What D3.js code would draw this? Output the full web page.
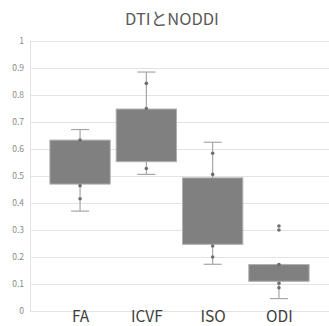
<!DOCTYPE html>
<html><head><meta charset="utf-8">
<script src="https://cdn.jsdelivr.net/npm/d3@7"></script>
<style>html,body{margin:0;padding:0;background:#fff;}</style>
</head><body>
<svg id="c" width="329" height="326"></svg>
<script>
const categories = ["FA", "ICVF", "ISO", "ODI"];
const q1 = [0.470, 0.553, 0.247, 0.110];
const q3 = [0.633, 0.748, 0.493, 0.172];
const whiskerLow = [0.370, 0.506, 0.173, 0.046];
const whiskerHigh = [0.672, 0.885, 0.625, 0.172];
const points = [
  [0.633, 0.464, 0.416],
  [0.843, 0.750, 0.528],
  [0.584, 0.506, 0.241, 0.200],
  [0.315, 0.300, 0.172, 0.103, 0.086]
];
const yTicks = [0, 0.1, 0.2, 0.3, 0.4, 0.5, 0.6, 0.7, 0.8, 0.9, 1];
const title = "DTIとNODDI";

const svg = d3.select("#c");
const font = "'Noto Sans CJK JP','Noto Sans',sans-serif";
const y = d3.scaleLinear().domain([0, 1]).range([311, 41]);
const x = d3.scalePoint().domain(categories).range([30, 329]).padding(0.755);
const step = x.step();
const boxW = step * 0.91;

svg.append("text").attr("x", 172).attr("y", 25).attr("text-anchor", "middle")
  .attr("font-family", font).attr("font-size", 16.5).attr("fill", "#595959").text(title);

// gridlines
svg.append("g").selectAll("line").data(yTicks).join("line")
  .attr("x1", 30).attr("x2", 329).attr("y1", d => y(d)).attr("y2", d => y(d))
  .attr("stroke", "#e3e3e3").attr("stroke-width", 1).attr("shape-rendering", "crispEdges");
svg.append("line").attr("x1", 30).attr("x2", 30).attr("y1", y(1)).attr("y2", y(0))
  .attr("stroke", "#e3e3e3").attr("shape-rendering", "crispEdges");

// y axis labels
const yAxis = d3.axisLeft(y).tickValues(yTicks).tickSize(0).tickPadding(0)
  .tickFormat(d => d3.format("")(+d.toFixed(1)));
const ga = svg.append("g").attr("transform", "translate(24,0)").call(yAxis);
ga.select(".domain").remove();
ga.selectAll("text").attr("font-family", font).attr("font-size", 8.5).attr("fill", "#8a8a8a");

// x labels
const xAxis = d3.axisBottom(x).tickSize(0).tickPadding(0);
const gx = svg.append("g").attr("transform", "translate(0,311)").call(xAxis);
gx.select(".domain").remove();
gx.selectAll("text").attr("font-family", font).attr("font-size", 15.5).attr("fill", "#404040");

// boxes
const data = categories.map((c, i) => ({c, q1: q1[i], q3: q3[i], lo: whiskerLow[i], hi: whiskerHigh[i], pts: points[i]}));
const g = svg.append("g").selectAll("g").data(data).join("g");
g.append("line").attr("x1", d => x(d.c)).attr("x2", d => x(d.c))
  .attr("y1", d => y(d.hi)).attr("y2", d => y(d.lo)).attr("stroke", "#a6a6a6").attr("stroke-width", 1.2);
g.append("line").attr("x1", d => x(d.c) - 9).attr("x2", d => x(d.c) + 9)
  .attr("y1", d => y(d.hi)).attr("y2", d => y(d.hi)).attr("stroke", "#a6a6a6").attr("stroke-width", 1.2);
g.append("line").attr("x1", d => x(d.c) - 9).attr("x2", d => x(d.c) + 9)
  .attr("y1", d => y(d.lo)).attr("y2", d => y(d.lo)).attr("stroke", "#a6a6a6").attr("stroke-width", 1.2);
g.append("rect").attr("x", d => x(d.c) - boxW / 2).attr("width", boxW)
  .attr("y", d => y(d.q3)).attr("height", d => y(d.q1) - y(d.q3))
  .attr("fill", "#808080").attr("stroke", "#b0b0b0").attr("stroke-width", 1);
g.selectAll("circle").data(d => d.pts.map(v => ({c: d.c, v}))).join("circle")
  .attr("cx", d => x(d.c)).attr("cy", d => y(d.v)).attr("r", 1.8).attr("fill", "#6e6e6e");
</script>
</body></html>
